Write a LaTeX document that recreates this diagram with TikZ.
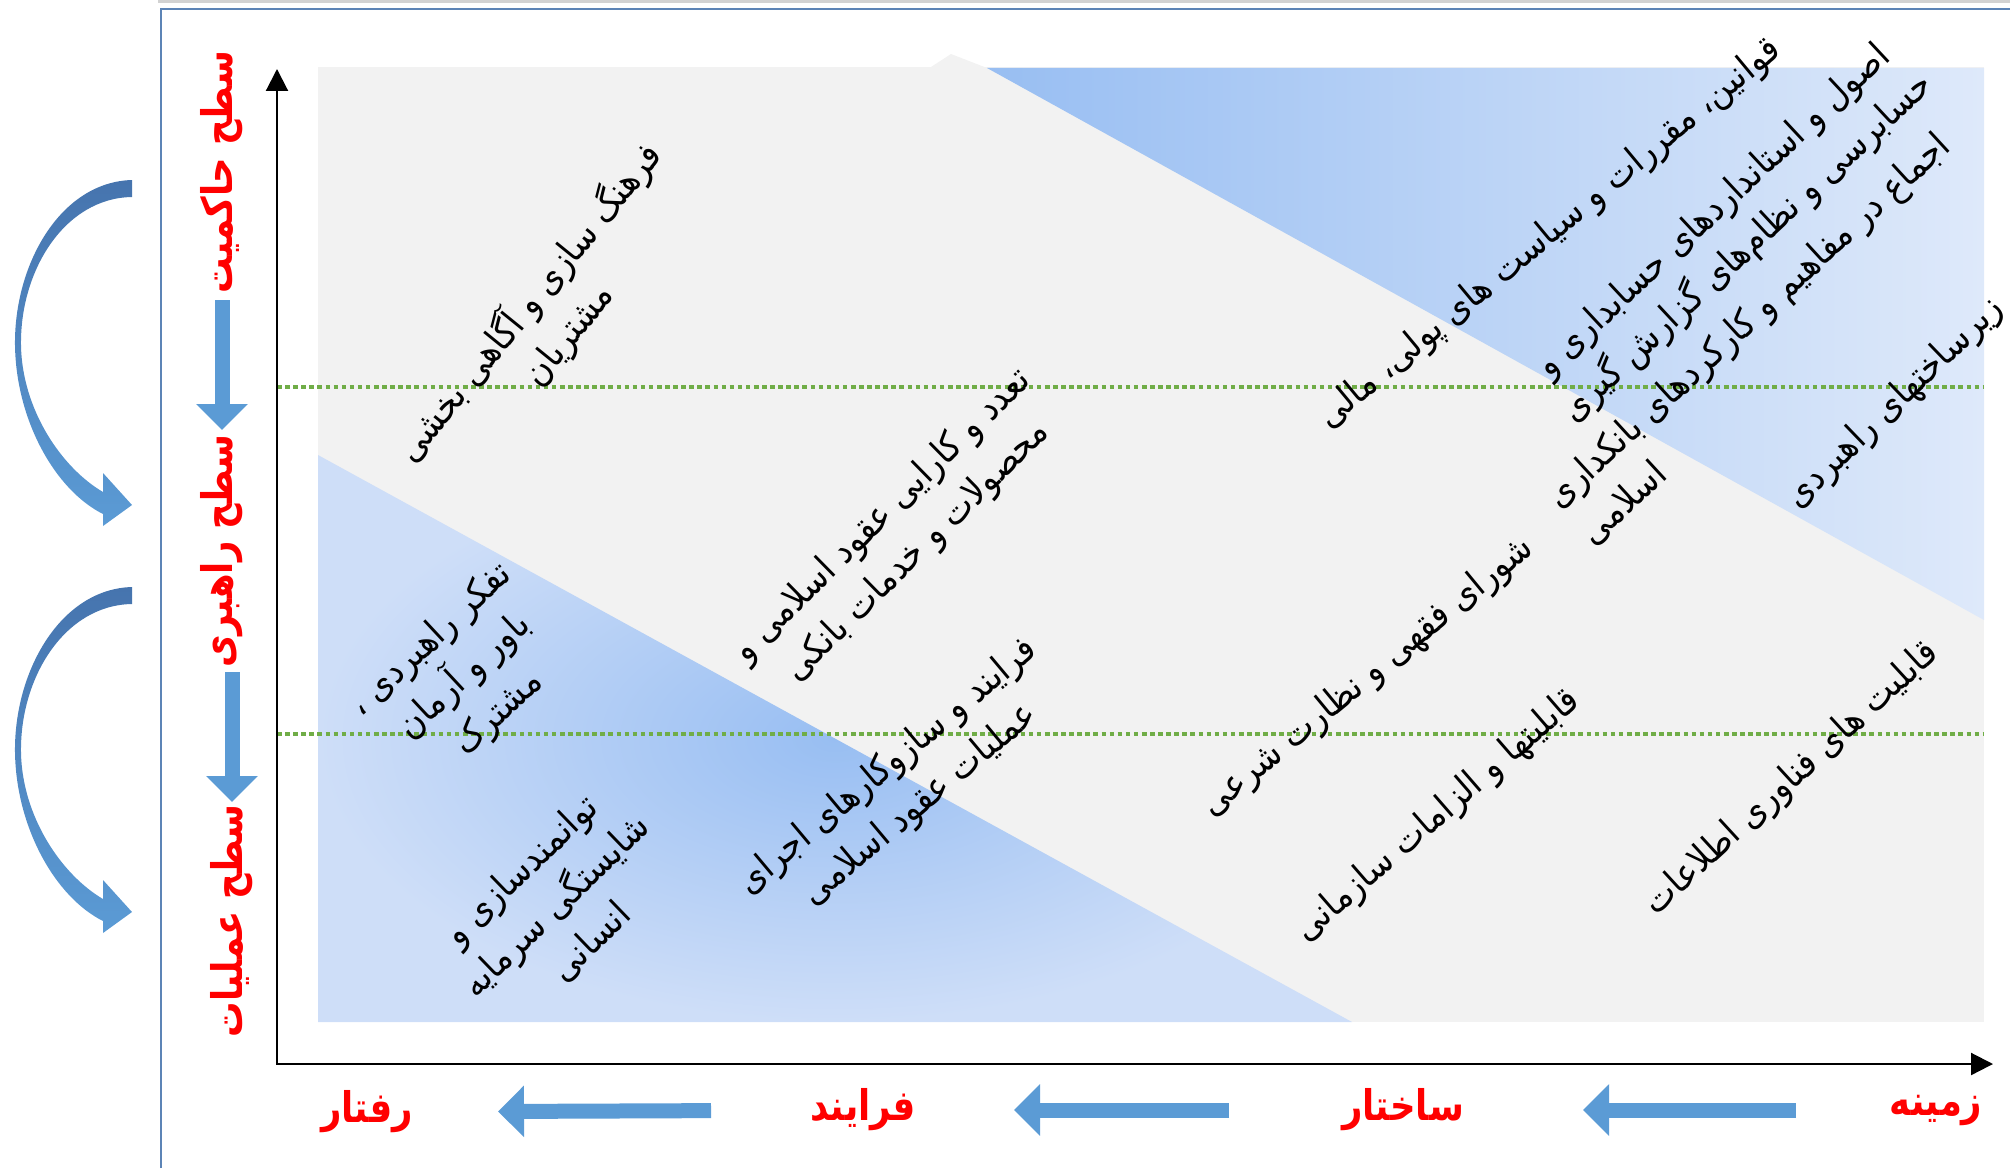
\documentclass[tikz,border=0pt]{standalone}
\usepackage{fontspec}
\usepackage{graphicx}
\usepackage{tikz}
\usetikzlibrary{arrows.meta}
\newfontfamily\farsifont[Script=Arabic]{DejaVu Sans}
\newfontfamily\farsicond[Script=Arabic]{DejaVu Sans Condensed}
\TeXXeTstate=1
\newcommand{\fatext}[1]{\beginR #1\endR}
\newcommand{\lvltext}[1]{\scalebox{0.84}[1]{\beginR #1\endR}}
\definecolor{levelred}{RGB}{255,0,0}
\definecolor{bggray}{RGB}{242,242,242}
\definecolor{bluedeep}{RGB}{152,190,242}
\definecolor{bluemid}{RGB}{206,222,248}
\definecolor{bluepale}{RGB}{222,233,250}
\definecolor{arrowblue}{RGB}{91,155,213}
\definecolor{curvetop}{RGB}{70,116,174}
\definecolor{framecol}{RGB}{92,132,182}
\definecolor{dotgreen}{RGB}{112,173,71}

\begin{document}
\begin{tikzpicture}[
    level/.style={text=levelred, font=\farsifont\bfseries\fontsize{12}{14}\selectfont, inner sep=1pt},
    item/.style={align=center, font=\farsicond\fontsize{10.5}{14.2}\selectfont, inner sep=0pt},
    blockarrow/.style={draw=arrowblue, line width=1.5mm, -{Triangle[width=5mm,length=2.6mm]}},
    levelline/.style={draw=dotgreen, line width=1.3pt, dash pattern=on 1.3pt off 1pt},
    axis/.style={line width=0.6pt, {Triangle[width=2.2mm,length=2.2mm]}-{Triangle[width=2.2mm,length=2.2mm]}}
]
    \useasboundingbox (0,0) rectangle (20.10,11.68);

    % frame
    \draw[gray!35, line width=0.6pt] (1.58,11.665) -- (20.10,11.665);
    \draw[framecol, line width=0.8pt] (1.61,0) -- (1.61,11.59) -- (20.10,11.59);

    % background bands
    \fill[bggray] (3.18,1.46) rectangle (19.84,11.01);
    \fill[bggray] (9.31,11.01) -- (9.51,11.14) -- (9.87,11.00) -- cycle;
    \shade[left color=bluedeep, right color=bluepale] (9.87,11.00) -- (19.84,11.00) -- (19.84,5.48) -- cycle;
    \shade[inner color=bluedeep, outer color=bluemid] (3.18,7.13) -- (13.52,1.46) -- (3.18,1.46) -- cycle;

    \foreach \y in {7.81,4.34}
        \draw[levelline] (2.77,\y) -- (19.84,\y);

    % axes
    \coordinate (origin) at (2.77,1.04);
    \coordinate (ytop) at (2.77,10.99);
    \coordinate (xend) at (19.93,1.04);
    \draw[axis] (ytop) -- (origin) -- (xend);

    % levels
    \node[level, rotate=90] (gov) at (2.22,9.96) {\lvltext{سطح حاکمیت}};
    \node[level, rotate=90] (strat) at (2.22,6.17) {\lvltext{سطح راهبری}};
    \node[level, rotate=90] (ops) at (2.32,2.47) {\lvltext{سطح عملیات}};
    \draw[blockarrow, shorten <=1.28cm, shorten >=1.21cm] (gov.center) -- (strat.center);
    \draw[blockarrow, shorten <=1.21cm, shorten >=1.19cm] (strat.center -| ops.center) -- (ops.center);

    \node[level] (behav) at (3.67,0.56) {\lvltext{رفتار}};
    \node[level] (proc) at (8.63,0.58) {\lvltext{فرایند}};
    \node[level] (struct) at (14.03,0.58) {\lvltext{ساختار}};
    \node[level] (context) at (19.36,0.58) {\lvltext{زمینه}};
    \draw[blockarrow, shorten <=1.40cm, shorten >=1.80cm] (context.center) -- (struct.center);
    \draw[blockarrow, shorten <=1.74cm, shorten >=1.51cm] (struct.center) -- (proc.center);
    \draw[blockarrow, shorten <=1.52cm, shorten >=1.31cm] (proc.center) -- (behav.center);

    % curved arrows
    \foreach \dy in {0,4.07} {
        \shade[top color=curvetop, bottom color=arrowblue, yshift=-\dy cm]
            (1.32,9.88) .. controls (0.60,9.86) and (0.14,9.03) .. (0.15,8.23)
            .. controls (0.16,7.48) and (0.55,6.78) .. (1.03,6.54)
            -- (1.03,6.42) -- (1.32,6.63) -- (1.03,6.95) -- (1.03,6.76)
            .. controls (0.62,7.00) and (0.22,7.58) .. (0.21,8.23)
            .. controls (0.20,8.98) and (0.65,9.70) .. (1.32,9.71) -- cycle;
    }

    % items
    \node[item, rotate=51] (culture) at (5.48,8.50) {\fatext{فرهنگ سازی و آگاهی بخشی}\\\fatext{مشتریان}};
    \node[item, rotate=43] (belief) at (4.65,4.91) {\fatext{تفکر راهبردی ،}\\\fatext{باور و آرمان}\\\fatext{مشترک}};
    \node[item, rotate=44] (empower) at (5.56,2.62) {\fatext{توانمندسازی و}\\\fatext{شایستگی سرمایه}\\\fatext{انسانی}};
    \node[item, rotate=44.5] (contracts) at (9.00,6.34) {\fatext{تعدد و کارایی عقود اسلامی و}\\\fatext{محصولات و خدمات بانکی}};
    \node[item, rotate=40] (process) at (9.04,3.82) {\fatext{فرایند و سازوکارهای اجرای}\\\fatext{عملیات عقود اسلامی}};
    \node[item, rotate=39.7] (laws) at (15.50,9.34) {\fatext{قوانین، مقررات و سیاست های پولی، مالی}};
    \node[item, rotate=43] (standards) at (17.31,9.38) {\fatext{اصول و استانداردهای حسابداری و}\\\fatext{حسابرسی و نظام‌های گزارش گیری}};
    \node[item, rotate=42.6, align=left] (consensus) at (17.65,8.29) {\fatext{اجماع در مفاهیم و کارکردهای بانکداری}\\\fatext{اسلامی}};
    \node[item, rotate=44] (infra) at (18.95,7.65) {\fatext{زیرساختهای راهبردی}};
    \node[item, rotate=39.5] (sharia) at (13.68,4.91) {\fatext{شورای فقهی و نظارت شرعی}};
    \node[item, rotate=41] (orgcap) at (14.38,3.52) {\fatext{قابلیتها و الزامات سازمانی}};
    \node[item, rotate=42.6] (itcap) at (17.92,3.89) {\fatext{قابلیت های فناوری اطلاعات}};
\end{tikzpicture}
\end{document}
